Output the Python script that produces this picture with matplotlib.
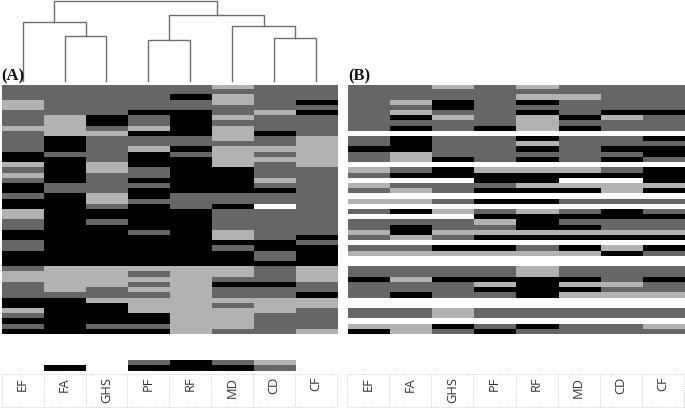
import re
import matplotlib
matplotlib.use("Agg")
import matplotlib.pyplot as plt
import numpy as np
from matplotlib.colors import ListedColormap

# ---------- data ----------
variables = ["EF", "FA", "GHS", "PF", "RF", "MD", "CD", "CF"]
levels = "KMLW"

panel_a = {
    "EF": "M3 L2 M3 L1 M4 K2 L1 M1 L1 M1 K2 M1 K2 L2 M2 K2 M2 K3 M1 L2 M3 K2 L1 M1 K1 M1 K1",
    "FA": "M6 L4 K3 M1 K5 M2 K14 L5 M1 K7",
    "GHS": "M6 K2 M1 L1 M5 L2 M4 L2 M1 K2 M1 K8 L4 M2 L1 K4 M1 K1",
    "PF": "M5 K1 M2 L1 K1 M2 L1 K3 M2 K1 M1 K2 M1 K5 M1 K6 L1 M1 L1 M1 L1 M1 L3 K2 M1 K1",
    "RF": "M2 K1 M2 K5 M2 K1 M1 K7 M3 K11 L13",
    "MD": "L1 M1 L2 M2 L1 M1 L3 M1 L4 K5 M2 K1 M4 L2 K1 M1 K3 L2 M1 K1 M2 L1 M1 L4 M1",
    "CD": "M5 L1 M3 K1 M2 L1 M1 L1 M3 L1 M1 K1 M2 W1 M6 K2 M2 K1 M3 K1 M2 L3 M4",
    "CF": "M3 K1 M1 K1 M4 L6 M13 K1 M1 K4 L3 M2 K1 L2 M4 L1",
}
panel_b = {
    "EF": "M9 W1 M2 K1 M2 W1 L1 M1 W1 L1 M1 W1 L1 W1 M1 W1 M2 L1 M1 W1 M1 L1 W2 M2 K1 M3 W2 M2 W1 L1 K1",
    "FA": "M3 L1 M1 L1 K1 M1 K1 W1 K3 L2 W1 M1 K1 W1 M1 L1 W1 L1 W1 K1 W1 M1 K2 L1 W1 M1 L1 W2 M2 L1 M2 K1 W2 M2 W1 L2",
    "GHS": "L1 M2 K2 M1 L1 M2 W1 M4 K1 W1 K2 W1 M2 W1 M1 W1 L1 W1 M2 L1 M1 W1 K1 L1 W2 M2 K1 M3 W2 L2 W1 K1 M1",
    "PF": "M8 K1 W1 M5 W1 L1 K2 M1 K1 W1 K1 W1 M1 K1 L1 M1 L1 K1 W1 K1 L1 W2 M2 K1 L1 K1 M1 W2 M2 W1 M1 K1",
    "RF": "L1 M1 L1 K1 M1 K1 L3 W1 K1 L1 K1 M1 K1 W1 L1 K2 L1 K1 W1 K1 W1 L1 K3 L1 K1 W1 M1 L1 W2 L2 K4 W2 M2 W1 K1 M1",
    "MD": "M2 L1 M3 K1 M1 K1 W1 M5 W1 L1 K1 W1 L1 K1 W1 M1 W1 M1 K1 M1 K1 L1 K1 W1 K1 L1 W2 M2 K1 L1 K1 L1 W2 M2 W1 M2",
    "CD": "M5 K1 L1 M2 W1 M2 K1 M1 K1 W1 M1 K1 W1 L2 W1 M1 W1 K2 M2 L1 K1 W1 L1 K1 W2 M3 L1 M1 L1 W2 M2 W1 M2",
    "CF": "M5 K1 M3 W1 K1 M1 K2 M1 W1 K3 L1 K1 W1 M1 W1 M1 K1 M2 L1 K1 W1 K1 M1 W2 M2 K1 M2 L1 W2 M2 W1 L1 M1",
}
strip_a = {
    "EF": "W2", "FA": "W1 K1", "GHS": "W2", "PF": "M1 K1",
    "RF": "K2", "MD": "M1 K1", "CD": "L1 M1", "CF": "W2",
}

# dendrogram: merges of leaves/nodes with their heights
leaf_count = 8
merges = [          # (left node, right node, height); nodes >= 8 are earlier merges
    (1, 2, 45),     # 8  FA + GHS
    (0, 8, 59),     # 9  EF + (FA, GHS)
    (3, 4, 41),     # 10 PF + RF
    (6, 7, 43),     # 11 CD + CF
    (5, 11, 55),    # 12 MD + (CD, CF)
    (10, 12, 66),   # 13
    (9, 13, 80),    # 14 root
]


def expand(col):
    out = []
    for sym, n in re.findall(r"([KMLW])(\d+)", col):
        out.extend([levels.index(sym)] * int(n))
    return out


def matrix(panel):
    return np.array([expand(panel[v]) for v in variables]).T


# ---------- figure ----------
W, H = 685, 410
plt.rcParams["font.family"] = ["Open Sans", "DejaVu Sans"]
fig = plt.figure(figsize=(W / 100, H / 100), dpi=100, facecolor="white")


def axes_px(x0, y0, x1, y1):
    ax = fig.add_axes([x0 / W, 1 - y1 / H, (x1 - x0) / W, (y1 - y0) / H])
    ax.set_axis_off()
    return ax


cmap = ListedColormap(["#000000", "#666666", "#B2B2B2", "#FFFFFF"])


def heat(ax, m):
    ax.imshow(m, cmap=cmap, vmin=-0.5, vmax=3.5, aspect="auto", interpolation="antialiased")


A_X = (1.7, 337)
B_X = (348, 684)

heat(axes_px(A_X[0], 85.5, A_X[1], 335), matrix(panel_a))
heat(axes_px(B_X[0], 85.5, B_X[1], 335), matrix(panel_b))
heat(axes_px(A_X[0], 361, A_X[1], 372), matrix(strip_a))

# dendrogram
dax = axes_px(A_X[0], 0, A_X[1], 82)
dax.set_xlim(-0.5, 7.5)
dax.set_ylim(0, 82)
pos = {i: (float(i), 0.0) for i in range(leaf_count)}
for k, (a, b, h) in enumerate(merges):
    xa, ya = pos[a]
    xb, yb = pos[b]
    dax.plot([xa, xa, xb, xb], [ya, h, h, yb], color="#6e6e6e", lw=1.0,
             solid_joinstyle="miter", clip_on=False)
    pos[leaf_count + k] = ((xa + xb) / 2, h)

# panel labels
for x, s in [(1, "(A)"), (348, "(B)")]:
    fig.text(x / W, 1 - 76 / H, s, family="Liberation Serif", weight="bold",
             fontsize=12, color="#111111", ha="left", va="center")


# label tables
def table(x0, x1):
    ax = axes_px(x0, 374.5, x1, 408)
    ax.set_xlim(0, len(variables))
    ax.set_ylim(1, 0)
    n = len(variables)
    style = dict(color="#d4d4d4", lw=0.7, ls=(0, (1, 1)), clip_on=False)
    for i in range(n + 1):
        ax.plot([i, i], [0, 1], **style)
    ax.plot([0, n], [0, 0], **style)
    ax.plot([0, n], [1, 1], **style)
    for i, v in enumerate(variables):
        ax.text(i + 0.5, 0.07, v, rotation=90, ha="center", va="top",
                fontsize=9.3, color="#333333")


table(A_X[0], A_X[1])
table(347, 684)

fig.savefig("out.png", dpi=100, facecolor="white")
